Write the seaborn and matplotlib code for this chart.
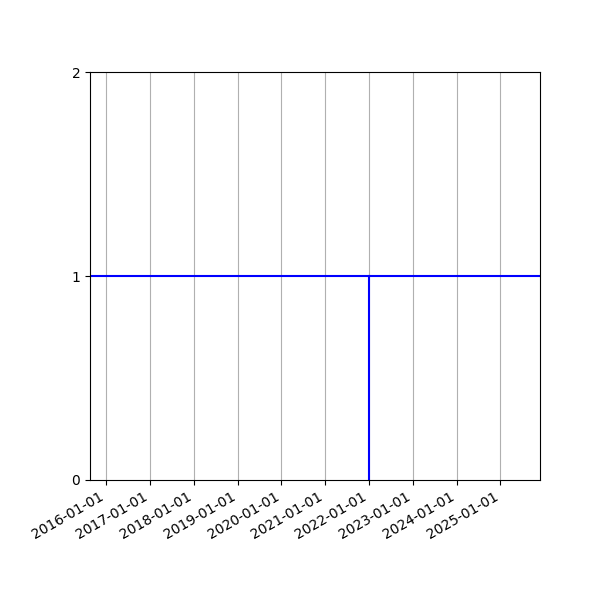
import matplotlib
matplotlib.use("Agg")
import matplotlib.pyplot as plt
import matplotlib.dates as mdates
import seaborn as sns
import pandas as pd

# Data
level_value = 1
event_date = "2022-01-01"
event_values = [0, 1]
x_limits = ["2015-08-18", "2025-11-27"]
y_ticks = [0, 1, 2]

fig, ax = plt.subplots(figsize=(6, 6), dpi=100)

ax.axhline(level_value, color="blue", linewidth=1.5)

df = pd.DataFrame({
    "date": pd.to_datetime([event_date] * len(event_values)),
    "value": event_values,
})
sns.lineplot(data=df, x="date", y="value", ax=ax, color="blue",
             linewidth=1.5, estimator=None, sort=False)

ax.set_xlim(pd.to_datetime(x_limits[0]), pd.to_datetime(x_limits[1]))
ax.set_ylim(y_ticks[0], y_ticks[-1])
ax.set_yticks(y_ticks)
ax.xaxis.set_major_locator(mdates.YearLocator())
ax.xaxis.set_major_formatter(mdates.DateFormatter("%Y-%m-%d"))
ax.grid(True, axis="x", color="#b0b0b0", linewidth=0.8)
ax.set_axisbelow(True)
ax.set_xlabel("")
ax.set_ylabel("")

fig.autofmt_xdate()
fig.subplots_adjust(left=0.15, right=0.9, top=0.88, bottom=0.2)
fig.savefig("out.png", dpi=100)
